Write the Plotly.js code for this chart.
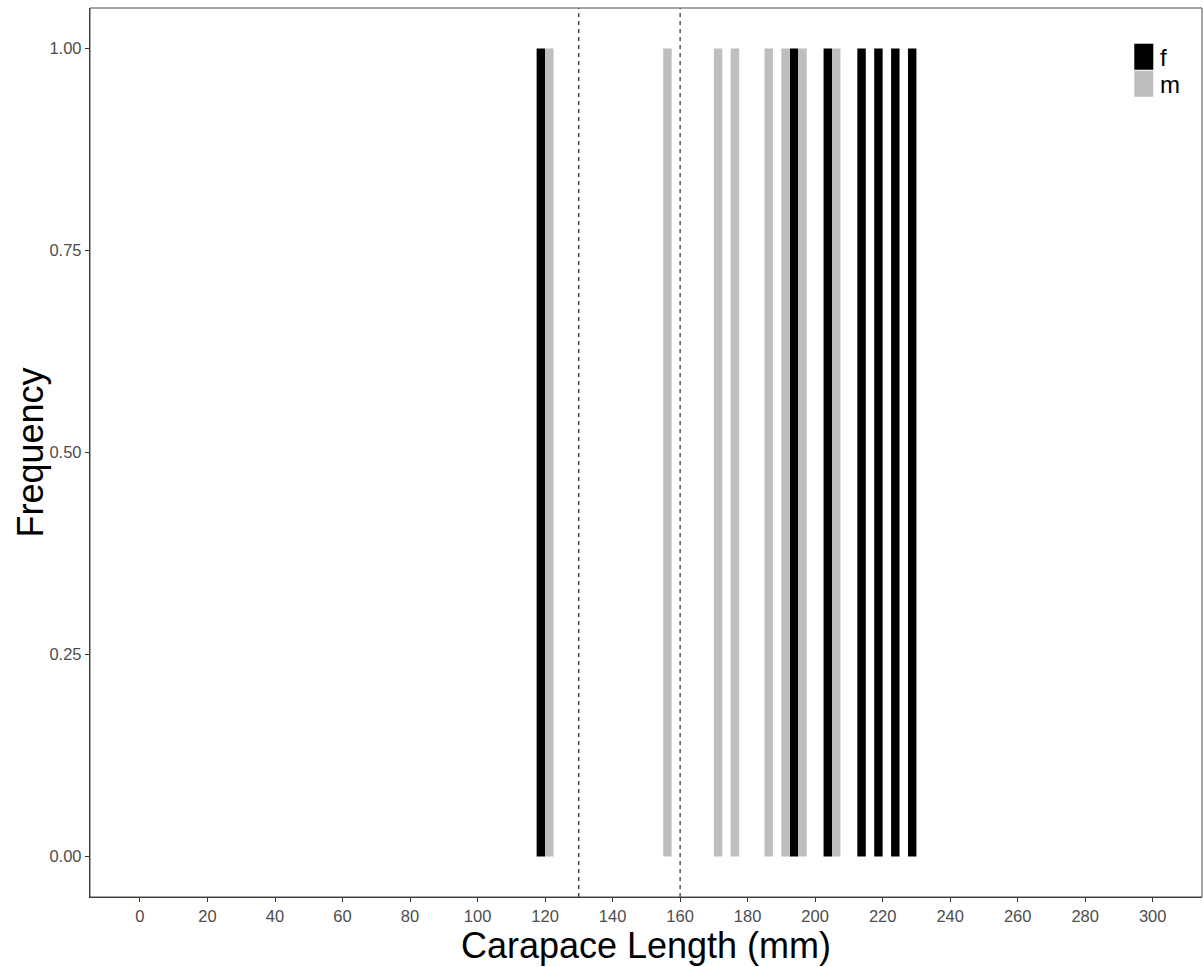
<!DOCTYPE html>
<html>
<head>
<meta charset="utf-8">
<script src="https://cdn.plot.ly/plotly-3.0.1.min.js"></script>
<style>html,body{margin:0;padding:0;background:#fff;}#chart{width:1203px;height:967px;}</style>
</head>
<body>
<div id="chart"></div>
<script>
// Bin centres (mm) and counts per sex
const femaleBins = [120, 195, 205, 215, 220, 225, 230];
const femaleCounts = [1, 1, 1, 1, 1, 1, 1];
const maleBins = [120, 155, 170, 175, 185, 190, 195, 205];
const maleCounts = [1, 1, 1, 1, 1, 1, 1, 1];
const cutoffs = [130, 160];
const xTicks = [0, 20, 40, 60, 80, 100, 120, 140, 160, 180, 200, 220, 240, 260, 280, 300];
const yTicks = [0, 0.25, 0.5, 0.75, 1.0];
const yTickLabels = ['0.00', '0.25', '0.50', '0.75', '1.00'];
const seriesNames = ['f', 'm'];
const seriesColors = ['#000000', '#bebebe'];
const xTitle = 'Carapace Length (mm)';
const yTitle = 'Frequency';

const binWidth = 5;
const traces = [
  {type: 'bar', name: seriesNames[0], x: femaleBins, y: femaleCounts,
   width: binWidth / 2, offset: -binWidth / 2,
   marker: {color: seriesColors[0], line: {width: 0}}, showlegend: false, hoverinfo: 'x+y'},
  {type: 'bar', name: seriesNames[1], x: maleBins, y: maleCounts,
   width: binWidth / 2, offset: 0,
   marker: {color: seriesColors[1], line: {width: 0}}, showlegend: false, hoverinfo: 'x+y'}
];

const shapes = cutoffs.map(c => ({
  type: 'line', xref: 'x', yref: 'paper', x0: c, x1: c, y0: 0, y1: 1,
  line: {color: '#000', width: 1, dash: '4px,4px'}
}));
// panel border
shapes.push({type: 'rect', xref: 'paper', yref: 'paper', x0: 0, x1: 1, y0: 0, y1: 1,
  line: {color: '#4d4d4d', width: 1}, fillcolor: 'rgba(0,0,0,0)'});

const annotations = [];
const legX0 = 1134, legX1 = 1153;
const legTops = [44, 71];
const legH = 26;
const plotL = 90, plotR = 1201.7, plotT = 8.3, plotB = 896.7;
const px2fx = v => (v - plotL) / (plotR - plotL);
const py2fy = v => (plotB - v) / (plotB - plotT);
seriesNames.forEach((n, i) => {
  shapes.push({type: 'rect', xref: 'paper', yref: 'paper',
    x0: px2fx(legX0), x1: px2fx(legX1), y0: py2fy(legTops[i] + legH), y1: py2fy(legTops[i]),
    fillcolor: seriesColors[i], line: {width: 0}});
  annotations.push({xref: 'paper', yref: 'paper', x: px2fx(legX1 + 5), y: py2fy(legTops[i] + legH / 2 + 1),
    xanchor: 'left', yanchor: 'middle', text: n, showarrow: false,
    font: {family: 'Liberation Sans, Arial, sans-serif', size: 24, color: '#000'}});
});
// y-axis title
annotations.push({xref: 'paper', yref: 'paper', x: px2fx(31), y: 0.5,
  xanchor: 'center', yanchor: 'middle', textangle: -90, text: yTitle, showarrow: false,
  font: {family: 'Liberation Sans, Arial, sans-serif', size: 36, color: '#000'}});

const layout = {
  width: 1203, height: 967,
  margin: {l: 90, r: 1.3, t: 8.3, b: 70.3, pad: 0},
  paper_bgcolor: '#fff', plot_bgcolor: '#fff',
  barmode: 'overlay',
  showlegend: false,
  xaxis: {
    range: [-14.8, 314.6],
    tickmode: 'array', tickvals: xTicks, ticktext: xTicks.map(String),
    ticks: 'outside', ticklen: 4, tickwidth: 1, tickcolor: '#333',
    showgrid: false, zeroline: false,
    showline: true, linecolor: '#333', linewidth: 1.2,
    tickfont: {family: 'Liberation Sans, Arial, sans-serif', size: 16.5, color: '#4d4d4d'},
    title: {text: xTitle, standoff: 1,
      font: {family: 'Liberation Sans, Arial, sans-serif', size: 36, color: '#000'}}
  },
  yaxis: {
    range: [-0.05, 1.05],
    tickmode: 'array', tickvals: yTicks, ticktext: yTickLabels,
    ticks: 'outside', ticklen: 4, tickwidth: 1, tickcolor: '#333',
    showgrid: false, zeroline: false,
    showline: true, linecolor: '#333', linewidth: 1.2,
    tickfont: {family: 'Liberation Sans, Arial, sans-serif', size: 16.5, color: '#4d4d4d'}
  },
  shapes: shapes,
  annotations: annotations
};

Plotly.newPlot('chart', traces, layout, {displayModeBar: false, staticPlot: true});
</script>
</body>
</html>
